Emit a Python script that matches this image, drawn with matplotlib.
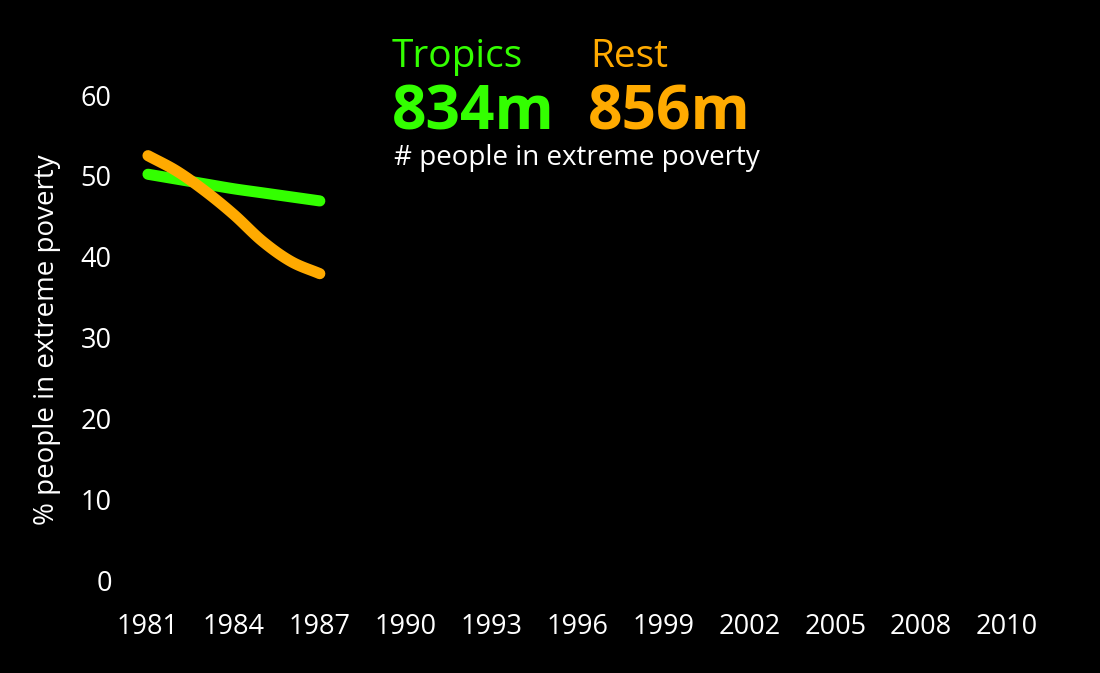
import matplotlib
matplotlib.use("Agg")
import matplotlib.pyplot as plt
import numpy as np

plt.rcParams['font.family'] = ['Open Sans', 'DejaVu Sans']

categories = ['1981', '1984', '1987', '1990', '1993', '1996', '1999', '2002', '2005', '2008', '2010']
years = [1981, 1982, 1983, 1984, 1985, 1986, 1987]
tropics = [50.2, 49.6, 49.0, 48.4, 47.9, 47.4, 46.9]
rest = [52.5, 50.6, 48.1, 45.2, 41.9, 39.4, 37.9]
yticks = [0, 10, 20, 30, 40, 50, 60]

GREEN = '#33ff00'
ORANGE = '#ffaa00'


def smooth(x, y, n=20):
    """Catmull-Rom curve through the points (drawing only)."""
    x = np.asarray(x, float)
    y = np.asarray(y, float)
    px = np.concatenate([[2 * x[0] - x[1]], x, [2 * x[-1] - x[-2]]])
    py = np.concatenate([[2 * y[0] - y[1]], y, [2 * y[-1] - y[-2]]])
    t = np.linspace(0, 1, n, endpoint=False)
    ox, oy = [], []
    for i in range(1, len(px) - 2):
        for P, out in ((px, ox), (py, oy)):
            p0, p1, p2, p3 = P[i - 1], P[i], P[i + 1], P[i + 2]
            out.extend(0.5 * ((2 * p1) + (-p0 + p2) * t + (2 * p0 - 5 * p1 + 4 * p2 - p3) * t ** 2
                              + (-p0 + 3 * p1 - 3 * p2 + p3) * t ** 3))
    ox.append(x[-1])
    oy.append(y[-1])
    return np.array(ox), np.array(oy)


W, H = 1100, 673
fig = plt.figure(figsize=(11, 6.73), dpi=100, facecolor='black')
ax = fig.add_axes([120 / W, (H - 600) / H, 920 / W, 520 / H], facecolor='black')

# categorical x: position = index of 3-year step
xpos = [(y - 1981) / 3 for y in years]
ax.plot(*smooth(xpos, tropics), color=GREEN, lw=8, solid_capstyle='round', zorder=2)
ax.plot(*smooth(xpos, rest), color=ORANGE, lw=8, solid_capstyle='round', zorder=3)

ax.set_xlim(-0.326, 10.384)
ax.set_ylim(-2.47, 61.86)
ax.set_xticks(range(len(categories)))
ax.set_xticklabels(categories)
ax.set_yticks(yticks)
for s in ax.spines.values():
    s.set_visible(False)
ax.tick_params(axis='x', length=0, pad=9, labelsize=19.5, colors='white')
ax.tick_params(axis='y', length=0, pad=6, labelsize=19.5, colors='white')
ax.set_ylabel('% people in extreme poverty', color='white', fontsize=20, labelpad=14)

def ft(x, y, s, **kw):
    fig.text(x / W, 1 - y / H, s, va='baseline', ha='left', **kw)

ft(392, 67, 'Tropics', color=GREEN, fontsize=28)
ft(590, 67, 'Rest', color=ORANGE, fontsize=28)
ft(392, 130, '834m', color=GREEN, fontsize=43.5, fontweight='bold')
ft(588, 130, '856m', color=ORANGE, fontsize=43.5, fontweight='bold')
ft(394, 165, '# people in extreme poverty', color='white', fontsize=20)

fig.savefig('out.png', dpi=100, facecolor='black')
